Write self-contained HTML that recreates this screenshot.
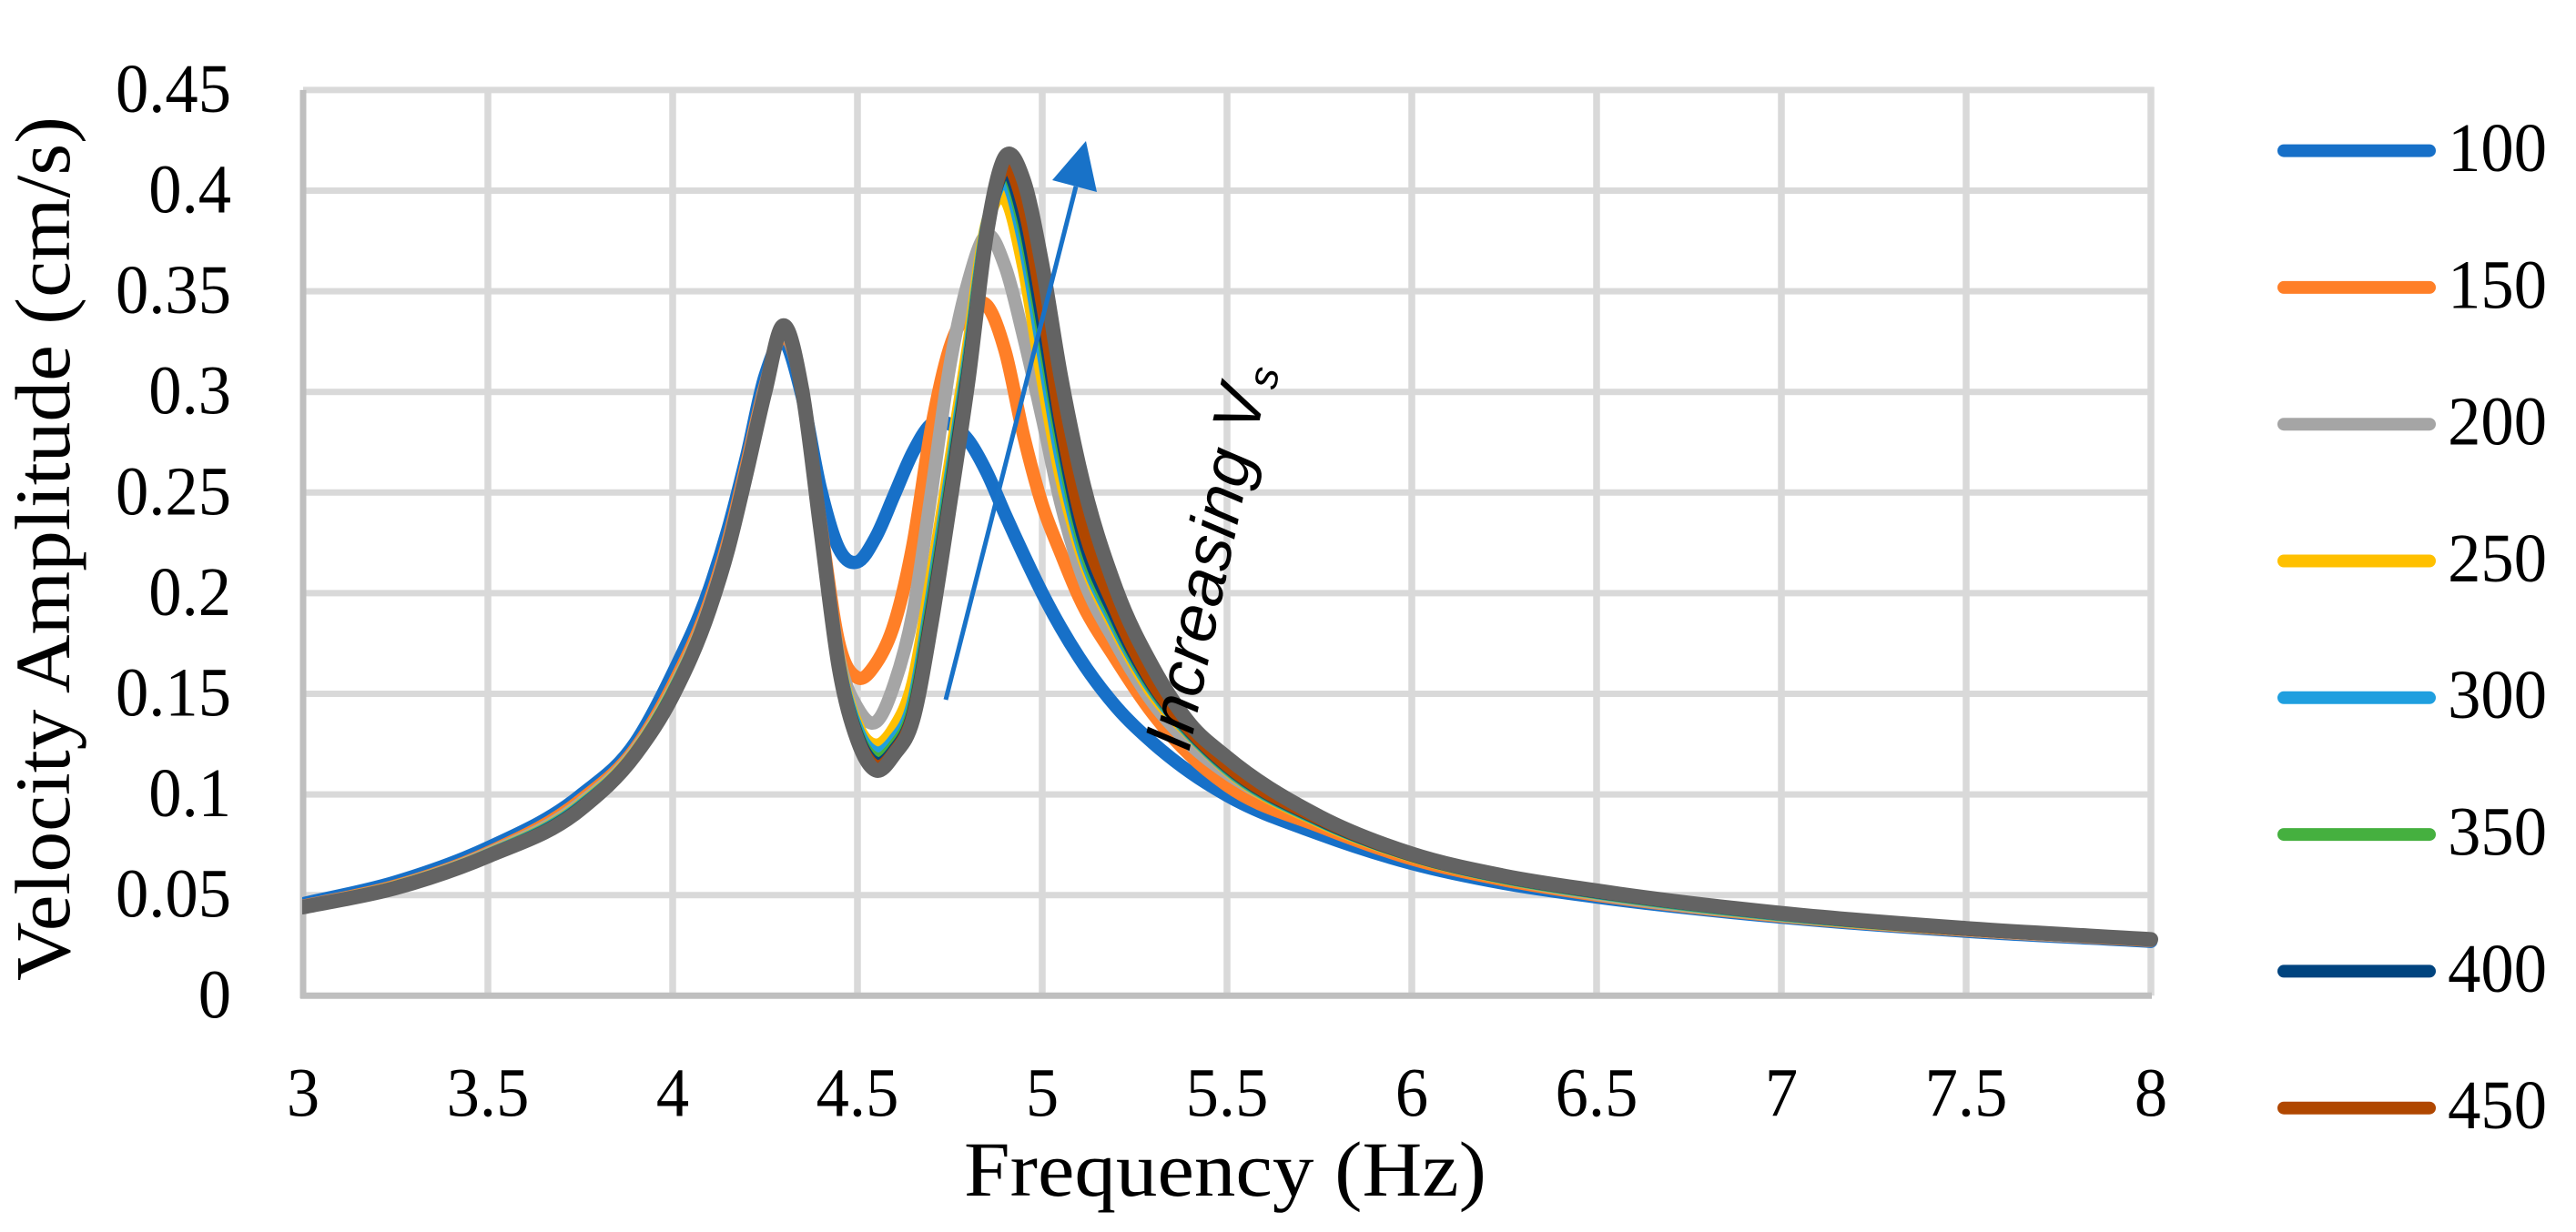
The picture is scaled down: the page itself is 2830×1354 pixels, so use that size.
<!DOCTYPE html>
<html lang="en">
<head>
<meta charset="utf-8">
<title>Velocity Amplitude vs Frequency</title>
<style>
html,body{margin:0;padding:0;background:#fff;width:2830px;height:1354px;overflow:hidden}
svg{display:block}
text{font-family:"Liberation Serif",serif;fill:#000}
</style>
</head>
<body>
<svg id="chart" xmlns="http://www.w3.org/2000/svg" width="2830" height="1354" viewBox="0 0 2830 1354">
  <defs><clipPath id="plot-clip"><rect x="332" y="0" width="2060" height="1354"/></clipPath></defs>
  <g id="grid"></g>
  <g id="axes"></g>
  <g id="series" clip-path="url(#plot-clip)"></g>
  <g id="legend"></g>
  <text x="1346" y="1314" font-size="86" text-anchor="middle" textLength="574" lengthAdjust="spacingAndGlyphs">Frequency (Hz)</text>
  <text transform="translate(76,603) rotate(-90)" font-size="86" text-anchor="middle" textLength="950" lengthAdjust="spacingAndGlyphs">Velocity Amplitude (cm/s)</text>
  <g>
    <line x1="1039" y1="769" x2="1182" y2="205" stroke="#1872c8" stroke-width="5"/>
    <polygon points="1193,155 1156,198 1205,211" fill="#1872c8"/>
  </g>
  <text transform="translate(1306,828) rotate(-78)" font-size="73" font-style="italic" style="font-family:'Liberation Sans',sans-serif">Increasing V<tspan font-size="46" dx="4" dy="10">s</tspan></text>
</svg>
<script>
const frequencies = [3,3.25,3.5,3.75,3.9, 4,4.1,4.15,4.2,4.25, 4.3,4.35,4.4,4.45,4.5, 4.55,4.6,4.65,4.7,4.75, 4.8,4.85,4.9,4.95,5, 5.05,5.1,5.2,5.3,5.4, 5.5,5.75,6,6.25,6.5,7, 7.5,8];
const vs100 = [.0457,.0565,.0735,.0995,.126, .16,.2025,.232,.268,.308, .325,.298,.252,.222,.2155, .228,.249,.27,.284,.284, .276,.26,.239,.219,.2, .183,.168,.1435,.1255,.111, .0995,.0803,.0657,.0558,.049,.039, .032,.027];
const vs150 = [.0445,.0545,.071,.097,.123, .154,.196,.226,.264,.303, .329,.301,.235,.175,.158, .165,.185,.224,.282,.322, .34,.343,.32,.278,.244, .22,.198,.167,.14,.1195, .1045,.0842,.068,.0575,.05,.0395, .0325,.0275];
const vs200 = [.0443,.0542,.0705,.0955,.122, .152,.194,.224,.262,.302, .331,.3,.233,.168,.143, .136,.155,.19,.25,.313, .355,.378,.362,.327,.287, .245,.213,.175,.1455,.125, .1105,.0878,.0697,.0585,.0505,.0398, .0327,.0277];
const vs250 = [.0442,.054,.07,.0945,.121, .151,.193,.223,.261,.301, .332,.3,.232,.166,.134, .1245,.133,.155,.206,.263, .322,.383,.396,.362,.308, .259,.224,.182,.15,.13, .1125,.0865,.0695,.0585,.051,.04, .033,.028];
const vs300 = [.0441,.0538,.0698,.094,.1205, .1505,.1925,.2225,.261,.301, .3325,.3,.232,.165,.132, .1207,.127,.145,.197,.256, .316,.382,.405,.375,.322, .268,.228,.184,.152,.1305, .113,.087,.0697,.0587,.0512,.0402, .033,.028];
const vs350 = [.0441,.0537,.0696,.0935,.1204, .1502,.1922,.2222,.26,.3005, .3328,.3,.232,.164,.13, .1177,.124,.142,.193,.252, .313,.381,.409,.382,.331, .276,.232,.186,.153,.131, .1135,.0873,.0698,.0588,.0514,.0404, .033,.028];
const vs400 = [.044,.0536,.0695,.0932,.1203, .1498,.1921,.2221,.26,.3, .333,.3,.232,.164,.129, .1155,.122,.14,.19,.249, .311,.38,.41,.386,.336, .281,.236,.188,.154,.1315, .114,.0876,.0699,.059,.0516,.0406, .033,.028];
const vs450 = [.044,.0535,.0694,.0928,.1202, .1495,.192,.222,.26,.3, .333,.3,.232,.163,.128, .114,.121,.139,.188,.247, .309,.38,.412,.392,.344, .286,.241,.191,.155,.132, .1145,.088,.07,.0592,.0518,.0408, .033,.028];
const vs500 = [.044,.0535,.0693,.0925,.12, .149,.192,.222,.26,.3, .333,.301,.232,.163,.127, .112,.12,.137,.185,.244, .306,.379,.417,.405,.363, .308,.263,.202,.163,.135, .1184,.089,.0705,.0595,.0522,.041, .0335,.028];
const xTickLabels = ["3","3.5","4","4.5","5","5.5","6","6.5","7","7.5","8"];
const yTickLabels = ["0","0.05","0.1","0.15","0.2","0.25","0.3","0.35","0.4","0.45"];
const legendLabels = ["100","150","200","250","300","350","400","450"];
const seriesValues = [vs100,vs150,vs200,vs250,vs300,vs350,vs400,vs450,vs500];
const seriesNames = ["100","150","200","250","300","350","400","450","500"];
const seriesColors = ["#1770c8","#ff7f27","#a5a5a5","#ffc000","#1f9fdf","#45b03f","#00447f","#b04700","#636363"];
const seriesWidths = [14.5,14.5,14.5,14.5,14.5,14.5,14.5,14.5,16];

const NS = "http://www.w3.org/2000/svg";
function xScale(f){ return 333 + (f - 3) * 406; }
function yScale(v){ return 1094.3 - v * 2212; }
function make(tag, attrs, parent){
  const el = document.createElementNS(NS, tag);
  for (const k in attrs) el.setAttribute(k, attrs[k]);
  parent.appendChild(el);
  return el;
}
const gridG = document.getElementById("grid");
const axesG = document.getElementById("axes");
const seriesG = document.getElementById("series");
const legendG = document.getElementById("legend");

xTickLabels.forEach(function(label){
  const f = parseFloat(label);
  if (f > 3) {
    const line = make("line", {x1:xScale(f), x2:xScale(f), y1:yScale(.45) - 3, y2:yScale(0), stroke:"#d9d9d9", "stroke-width":7.5}, gridG);
    
    
  }
  const g = make("g", {transform:"translate(" + xScale(f) + ",1226.5) scale(.955,1)"}, axesG);
  const t = make("text", {"font-size":76, "text-anchor":"middle"}, g);
  t.textContent = label;
  
  
});
yTickLabels.forEach(function(label){
  const v = parseFloat(label);
  if (v > 0) {
    const line = make("line", {x1:333, x2:xScale(8) + 3.5, y1:yScale(v), y2:yScale(v), stroke:"#d9d9d9", "stroke-width":7}, gridG);
    
    
  }
  const g = make("g", {transform:"translate(254," + (yScale(v) + 24) + ") scale(.955,1)"}, axesG);
  const t = make("text", {"font-size":76, "text-anchor":"end"}, g);
  t.textContent = label;
  
  
});
const yAxis = make("line", {x1:xScale(3), x2:xScale(3), y1:yScale(.45), y2:yScale(0) + 3, stroke:"#bfbfbf", "stroke-width":7}, axesG);


const xAxis = make("line", {x1:xScale(3) - 3, x2:xScale(8) + 1, y1:yScale(0), y2:yScale(0), stroke:"#bfbfbf", "stroke-width":7}, axesG);



function curvePath(xs, ys){
  const px = xs.map(xScale), py = ys.map(yScale);
  const n = px.length;
  const slope = function(i){
    if (i === 0) return (py[1] - py[0]) / (px[1] - px[0]);
    if (i === n - 1) return (py[n - 1] - py[n - 2]) / (px[n - 1] - px[n - 2]);
    const h0 = px[i] - px[i - 1], h1 = px[i + 1] - px[i];
    const d0 = (py[i] - py[i - 1]) / h0, d1 = (py[i + 1] - py[i]) / h1;
    return (h1 * d0 + h0 * d1) / (h0 + h1);
  };
  let d = "M" + px[0] + " " + py[0];
  for (let i = 0; i < n - 1; i++) {
    const h = (px[i + 1] - px[i]) / 3;
    d += "C" + (px[i] + h) + " " + (py[i] + slope(i) * h) + " " + (px[i + 1] - h) + " " + (py[i + 1] - slope(i + 1) * h) + " " + px[i + 1] + " " + py[i + 1];
  }
  return d;
}
seriesValues.forEach(function(values, i){
  const path = make("path", {d:curvePath(frequencies, values), fill:"none", stroke:seriesColors[i], "stroke-width":seriesWidths[i], "stroke-linejoin":"round", "stroke-linecap":"round"}, seriesG);
  
  
});
legendLabels.forEach(function(label, i){
  const cy = 165.6 + i * 150.3;
  const line = make("line", {x1:2509, x2:2669, y1:cy, y2:cy, stroke:seriesColors[i], "stroke-width":14, "stroke-linecap":"round"}, legendG);
  
  
  const g = make("g", {transform:"translate(2798," + (cy + 22.4) + ") scale(.955,1)"}, legendG);
  const t = make("text", {"font-size":76, "text-anchor":"end"}, g);
  t.textContent = label;
  
  
});
</script>
</body>
</html>
